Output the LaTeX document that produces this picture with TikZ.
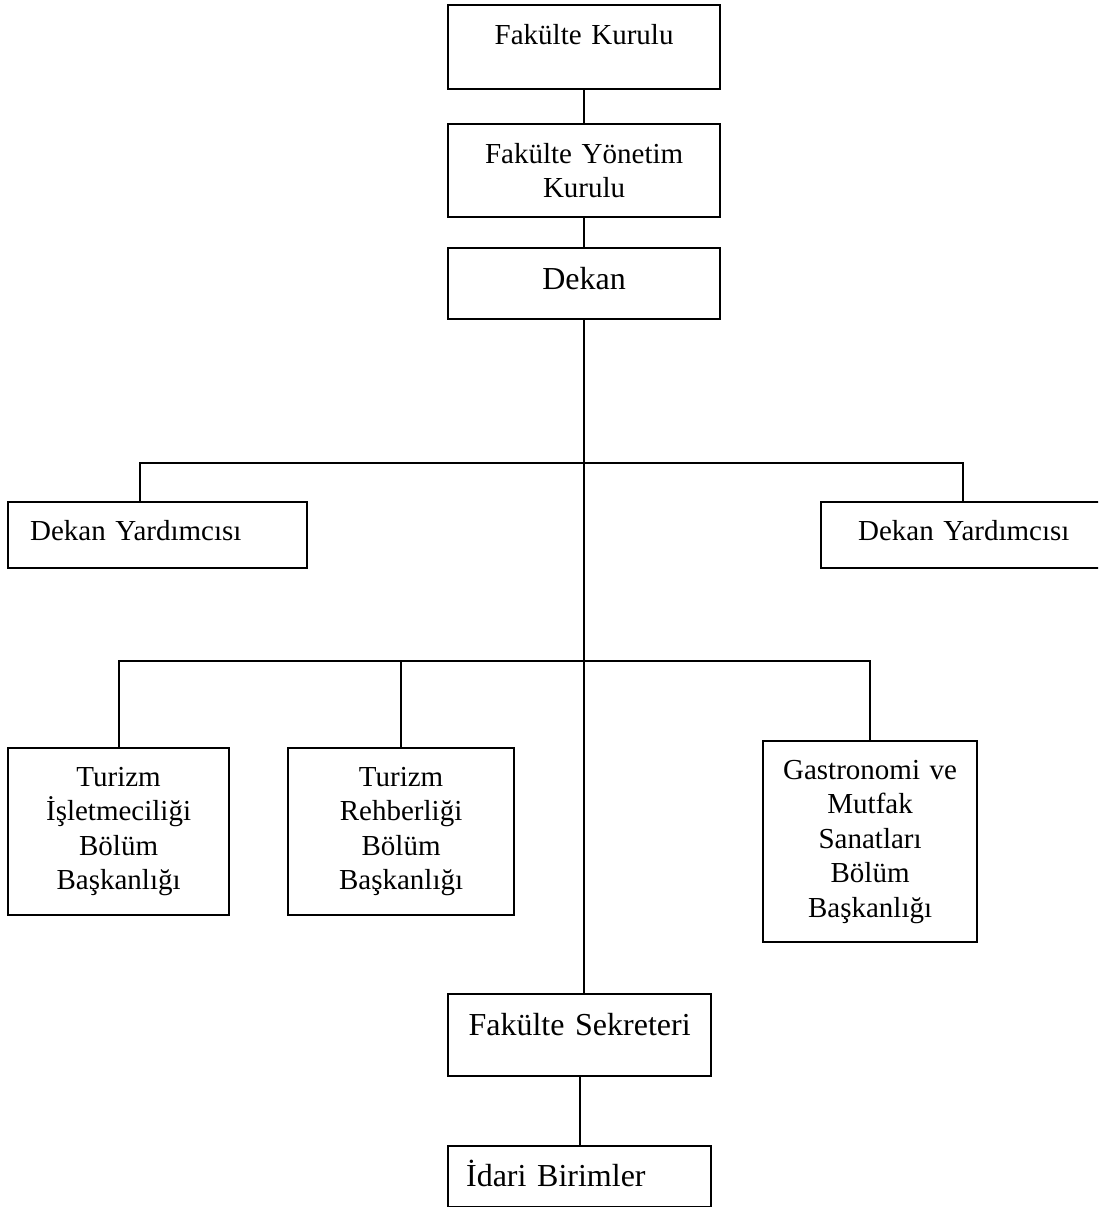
\documentclass[tikz,border=0pt]{standalone}
\usepackage{fontspec}
\setmainfont{Liberation Serif}

\begin{document}
\begin{tikzpicture}[x=1pt,y=-1pt,line width=2pt]
				\tikzstyle{box}=[draw,rectangle,line width=2.2pt,anchor=north west,inner xsep=0pt,inner ysep=0pt,align=center,font=\fontsize{29}{34.5}\selectfont]
				\tikzstyle{bigbox}=[box,font=\fontsize{32}{38}\selectfont]
				\clip (0,0) rectangle (1098,1207);
				\node[box,text width=272,text height=39,text depth=45] (fk) at (447,4) {Fakülte Kurulu};
				\node[box,text width=272,minimum height=93] (fyk) at (447,123) {Fakülte Yönetim\\Kurulu};
				\node[bigbox,text width=272,text height=41,text depth=30] (dekan) at (447,247) {Dekan};
				\node[box,align=left,inner xsep=22,text width=255,text height=38,text depth=28] (ydl) at (7,501) {Dekan Yardımcısı};
				\node[box,align=left,inner xsep=37,text width=225,text height=38,text depth=28] (ydr) at (820,501) {Dekan Yardımcısı};
				\node[box,text width=221,minimum height=167] (tib) at (7,747) {Turizm\\İşletmeciliği\\Bölüm\\Başkanlığı};
				\node[box,text width=226,minimum height=167] (trb) at (287,747) {Turizm\\Rehberliği\\Bölüm\\Başkanlığı};
				\node[box,text width=214,minimum height=201] (gmb) at (762,740) {Gastronomi ve\\Mutfak\\Sanatları\\Bölüm\\Başkanlığı};
				\node[bigbox,text width=263,text height=41,text depth=41] (sek) at (447,993) {Fakülte Sekreteri};
				\node[bigbox,align=left,inner xsep=18,text width=227,text height=40,text depth=21] (idari) at (447,1145) {İdari Birimler};
				\coordinate (bar1l) at (140,463);
				\coordinate (bar1r) at (963,463);
				\coordinate (bar2) at (0,661);
				\draw (fk.south) -- (fyk.north);
				\draw (fyk.south) -- (dekan.north);
				\draw (dekan.south) -- (dekan.south |- sek.north);
				\draw (ydl.north -| bar1l) -- (bar1l) -- (bar1r) -- (ydr.north -| bar1r);
				\draw (tib.north) -- (tib.north |- bar2) -- (gmb.north |- bar2) -- (gmb.north);
				\draw (trb.north) -- (trb.north |- bar2);
				\draw (sek.south) -- (idari.north);
\end{tikzpicture}
\end{document}
